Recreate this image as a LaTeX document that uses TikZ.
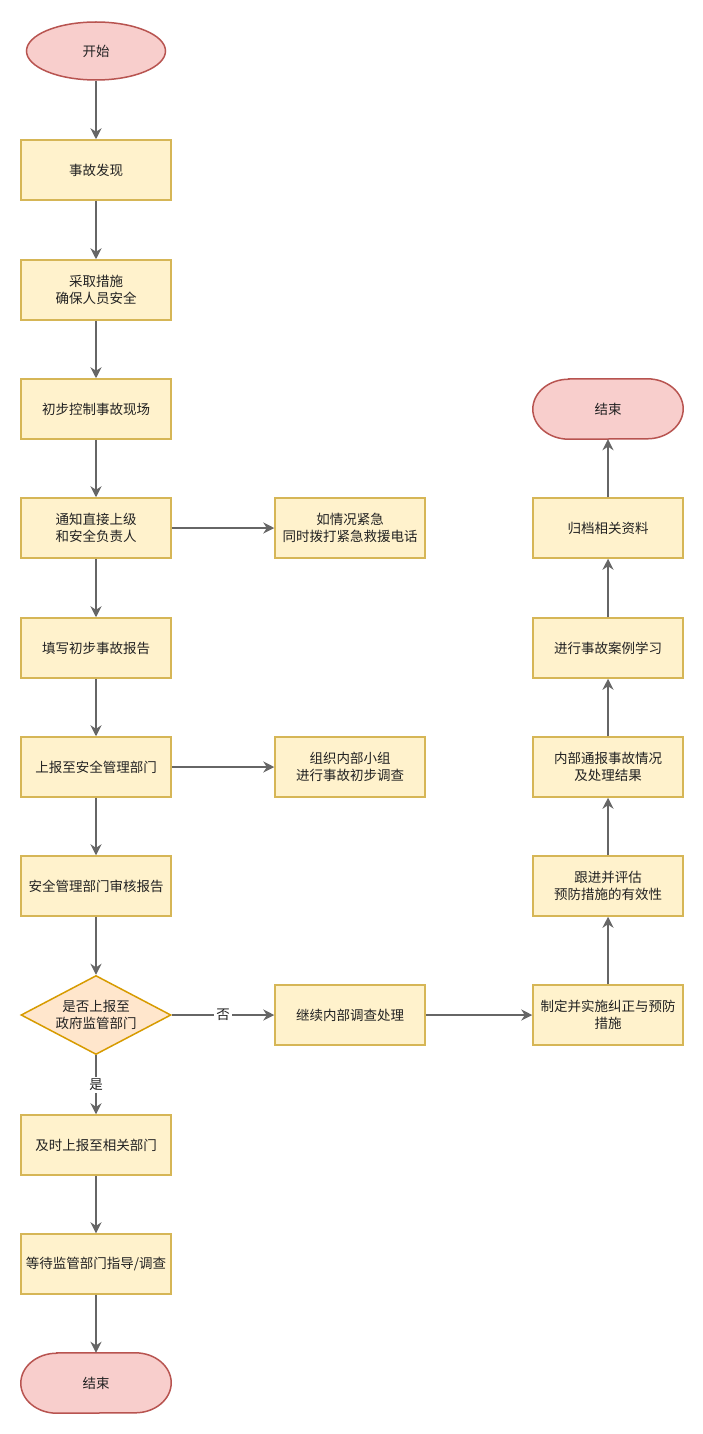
\documentclass[tikz,border=0pt]{standalone}
\usepackage{fontspec}
\setmainfont{Noto Sans CJK SC}
\usetikzlibrary{arrows.meta,shapes.geometric,calc}
\definecolor{boxfill}{HTML}{FFF2CC}
\definecolor{boxline}{HTML}{D6B656}
\definecolor{endfill}{HTML}{F8CECC}
\definecolor{endline}{HTML}{B85450}
\definecolor{dfill}{HTML}{FFE6CC}
\definecolor{dline}{HTML}{D79B00}
\definecolor{arr}{HTML}{666666}
\definecolor{txt}{HTML}{222222}
\begin{document}
\begin{tikzpicture}[x=1pt,y=-1pt,
  every node/.style={font=\fontsize{13.5}{17.5}\selectfont,text=txt,align=center,inner sep=0pt},
  proc/.style={rectangle,draw=boxline,fill=boxfill,line width=1.5pt,minimum width=150pt,minimum height=60pt},
  startnode/.style={ellipse,draw=endline,fill=endfill,line width=1.5pt,minimum width=139pt,minimum height=58pt},
  termnode/.style={rectangle,minimum width=150pt,minimum height=60pt},
  dec/.style={diamond,draw=dline,fill=dfill,line width=1.5pt,minimum width=150pt,minimum height=79pt,aspect=1.9},
  flow/.style={draw=arr,line width=1.8pt,-{Stealth[length=11pt,width=11pt]}},
  lbl/.style={fill=white,inner sep=2pt}]
\useasboundingbox (0,0) rectangle (703,1434);
\fill[white] (0,0) rectangle (703,1434);
\newcommand{\stadium}[1]{%
  \draw[draw=endline,fill=endfill,line width=1.5pt]
    ($(#1.north west)+(36,0)$) -- ($(#1.north east)+(-36,0)$)
    arc[start angle=90,end angle=-90,x radius=36,y radius=-30]
    -- ($(#1.south west)+(36,0)$)
    arc[start angle=270,end angle=90,x radius=36,y radius=-30] -- cycle;}
% left column
\node[startnode] (s) at (96,51) {开始};
\node[proc] (b1) at (96,170) {事故发现};
\node[proc] (b2) at (96,290) {采取措施\\确保人员安全};
\node[proc] (b3) at (96,409) {初步控制事故现场};
\node[proc] (b4) at (96,528) {通知直接上级\\和安全负责人};
\node[proc] (b5) at (96,648) {填写初步事故报告};
\node[proc] (b6) at (96,767) {上报至安全管理部门};
\node[proc] (b7) at (96,886) {安全管理部门审核报告};
\node[dec] (d) at (96,1015) {是否上报至\\政府监管部门};
\node[proc] (b9) at (96,1145) {及时上报至相关部门};
\node[proc] (b10) at (96,1264) {等待监管部门指导/调查};
\node[termnode] (e1) at (96,1383) {};
\stadium{e1}
\node at (e1) {结束};
% middle column
\node[proc] (m4) at (350,528) {如情况紧急\\同时拨打紧急救援电话};
\node[proc] (m6) at (350,767) {组织内部小组\\进行事故初步调查};
\node[proc] (m9) at (350,1015) {继续内部调查处理};
% right column
\node[termnode] (e2) at (608,409) {};
\stadium{e2}
\node at (e2) {结束};
\node[proc] (r1) at (608,528) {归档相关资料};
\node[proc] (r2) at (608,648) {进行事故案例学习};
\node[proc] (r3) at (608,767) {内部通报事故情况\\及处理结果};
\node[proc] (r4) at (608,886) {跟进并评估\\预防措施的有效性};
\node[proc] (r5) at (608,1015) {制定并实施纠正与预防\\措施};
% connectors
\draw[flow] (s) -- (b1);
\draw[flow] (b1) -- (b2);
\draw[flow] (b2) -- (b3);
\draw[flow] (b3) -- (b4);
\draw[flow] (b4) -- (b5);
\draw[flow] (b5) -- (b6);
\draw[flow] (b6) -- (b7);
\draw[flow] (b7) -- (d);
\draw[flow] (d) -- node[lbl,pos=0.5] (ly) {是} (b9);
\draw[flow] (b9) -- (b10);
\draw[flow] (b10) -- (e1);
\draw[flow] (b4) -- (m4);
\draw[flow] (b6) -- (m6);
\draw[flow] (d) -- node[lbl,pos=0.5] (ln) {否} (m9);
\draw[flow] (m9) -- (r5);
\draw[flow] (r5) -- (r4);
\draw[flow] (r4) -- (r3);
\draw[flow] (r3) -- (r2);
\draw[flow] (r2) -- (r1);
\draw[flow] (r1) -- (e2);
\end{tikzpicture}
\end{document}
